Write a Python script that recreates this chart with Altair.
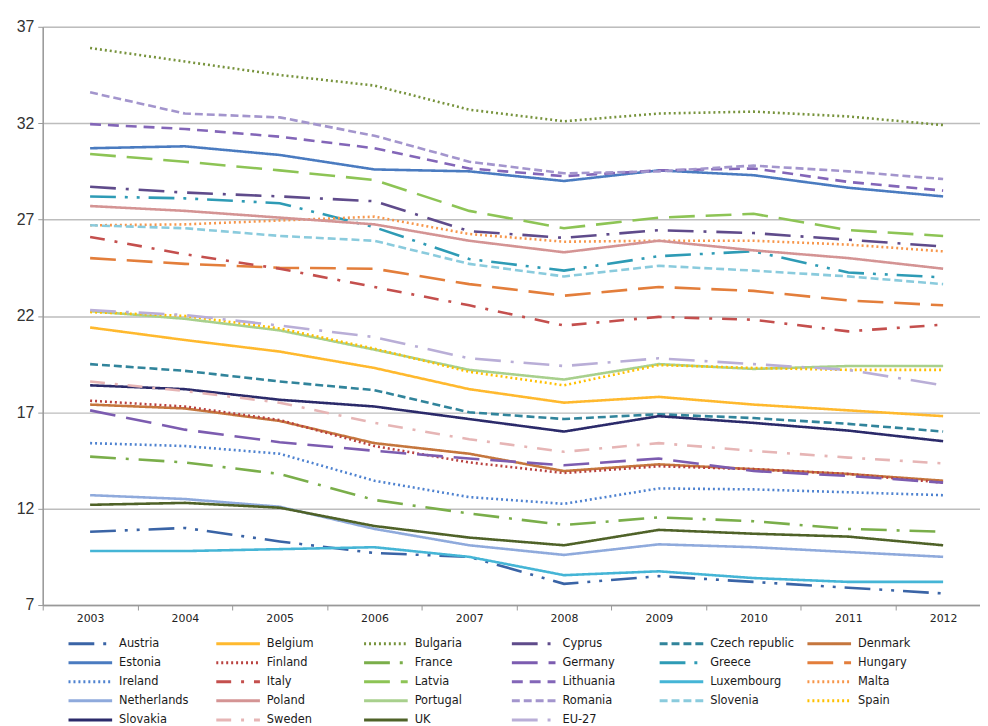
import altair as alt
import pandas as pd

years = [2003, 2004, 2005, 2006, 2007, 2008, 2009, 2010, 2011, 2012]

austria = [10.8, 11.0, 10.3, 9.7, 9.5, 8.1, 8.5, 8.2, 7.9, 7.6]
belgium = [21.4, 20.75, 20.15, 19.3, 18.2, 17.5, 17.8, 17.4, 17.1, 16.8]
bulgaria = [35.9, 35.2, 34.5, 33.95, 32.7, 32.1, 32.5, 32.6, 32.35, 31.9]
cyprus = [28.7, 28.4, 28.2, 27.95, 26.4, 26.05, 26.45, 26.3, 25.95, 25.6]
czech = [19.5, 19.15, 18.6, 18.15, 17.0, 16.65, 16.9, 16.7, 16.4, 16.0]
denmark = [17.4, 17.2, 16.55, 15.4, 14.85, 13.95, 14.3, 14.05, 13.8, 13.45]
estonia = [30.7, 30.8, 30.35, 29.6, 29.5, 29.0, 29.55, 29.3, 28.65, 28.2]
finland = [17.6, 17.3, 16.6, 15.25, 14.4, 13.85, 14.2, 14.05, 13.8, 13.35]
france = [14.7, 14.4, 13.8, 12.45, 11.75, 11.15, 11.55, 11.35, 10.95, 10.8]
germany = [17.1, 16.1, 15.45, 15.0, 14.6, 14.25, 14.6, 13.95, 13.7, 13.35]
greece = [28.2, 28.1, 27.85, 26.6, 24.95, 24.35, 25.1, 25.35, 24.25, 24.0]
hungary = [25.0, 24.7, 24.5, 24.45, 23.65, 23.05, 23.5, 23.3, 22.8, 22.55]
ireland = [15.4, 15.25, 14.85, 13.45, 12.6, 12.25, 13.05, 13.0, 12.85, 12.7]
italy = [26.1, 25.2, 24.45, 23.5, 22.55, 21.5, 21.95, 21.8, 21.2, 21.55]
latvia = [30.4, 30.0, 29.55, 29.05, 27.45, 26.55, 27.1, 27.3, 26.45, 26.15]
lithuania = [31.95, 31.7, 31.3, 30.7, 29.65, 29.25, 29.55, 29.65, 28.95, 28.5]
luxembourg = [9.8, 9.8, 9.9, 10.0, 9.5, 8.55, 8.75, 8.4, 8.2, 8.2]
malta = [26.7, 26.75, 26.95, 27.15, 26.25, 25.85, 25.9, 25.9, 25.7, 25.35]
netherlands = [12.7, 12.5, 12.1, 10.95, 10.1, 9.6, 10.15, 10.0, 9.75, 9.5]
poland = [27.7, 27.45, 27.1, 26.75, 25.9, 25.3, 25.9, 25.4, 25.0, 24.45]
portugal = [22.25, 21.85, 21.25, 20.25, 19.2, 18.7, 19.5, 19.25, 19.4, 19.4]
romania = [33.6, 32.5, 32.3, 31.35, 30.0, 29.4, 29.5, 29.8, 29.5, 29.1]
slovenia = [26.7, 26.55, 26.15, 25.9, 24.7, 24.05, 24.6, 24.35, 24.05, 23.65]
spain = [22.2, 22.0, 21.35, 20.3, 19.1, 18.4, 19.45, 19.3, 19.2, 19.2]
slovakia = [18.4, 18.2, 17.65, 17.3, 16.65, 16.0, 16.8, 16.45, 16.05, 15.5]
sweden = [18.6, 18.1, 17.5, 16.45, 15.6, 14.95, 15.4, 15.0, 14.65, 14.35]
uk = [12.2, 12.3, 12.05, 11.1, 10.5, 10.1, 10.9, 10.7, 10.55, 10.1]
eu27 = [22.3, 22.05, 21.5, 20.9, 19.8, 19.4, 19.8, 19.5, 19.2, 18.4]

countries = ["Austria", "Belgium", "Bulgaria", "Cyprus", "Czech republic", "Denmark",
             "Estonia", "Finland", "France", "Germany", "Greece", "Hungary",
             "Ireland", "Italy", "Latvia", "Lithuania", "Luxembourg", "Malta",
             "Netherlands", "Poland", "Portugal", "Romania", "Slovenia", "Spain",
             "Slovakia", "Sweden", "UK", "EU-27"]
series = [austria, belgium, bulgaria, cyprus, czech, denmark,
          estonia, finland, france, germany, greece, hungary,
          ireland, italy, latvia, lithuania, luxembourg, malta,
          netherlands, poland, portugal, romania, slovenia, spain,
          slovakia, sweden, uk, eu27]

colors = ["#3A64A6", "#FFB92E", "#77933C", "#5F4B8B", "#31849B", "#C5763D",
          "#4A7BC0", "#B9413F", "#7AAE4A", "#7C5CB0", "#2E9BB5", "#E37E3B",
          "#4E82D0", "#C44F4D", "#8DC455", "#8366B8", "#45B5D6", "#F7964A",
          "#8FAADC", "#D49494", "#A8D08D", "#A395CD", "#8ACBDD", "#FFC000",
          "#2B2A6A", "#E6B5B5", "#4F6228", "#B9AED7"]

SOLID = [1, 0]
DOT = [2, 3]
SDASH = [8, 4]
MDASH = [11, 7]
LDASH = [26, 11]
LDASHDOT = [26, 10, 3, 10]
LDASHDOTDOT = [26, 9, 3, 9, 3, 9]
DASHDOT = [15, 10, 3, 10]

dashes = [LDASHDOTDOT, SOLID, DOT, LDASHDOT, SDASH, SOLID,
          SOLID, DOT, LDASHDOT, LDASH, LDASHDOTDOT, LDASH,
          DOT, DASHDOT, LDASH, MDASH, SOLID, DOT,
          SOLID, SOLID, SOLID, SDASH, SDASH, DOT,
          SOLID, DASHDOT, SOLID, LDASHDOT]

rows = []
for c, vals in zip(countries, series):
    for y, v in zip(years, vals):
        rows.append({"country": c, "year": y, "value": v})
df = pd.DataFrame(rows)

step = 95.56
W = 945
H = 583
x_end = 2002.5 + W / step

# wide horizontal stroke symbol: path spans 3x the unit box so the
# legend row height stays small while the sample line is ~44px long
legend = alt.Legend(
    title=None, orient="none", legendX=39, legendY=613, columns=6,
    direction="horizontal",
    symbolType="M-3,0L3,0", symbolSize=215, symbolStrokeWidth=3,
    labelFont="DejaVu Sans", labelFontSize=11.5, labelColor="#1a1a1a",
    columnPadding=7, rowPadding=4.2, gridAlign="all", padding=0,
    labelOffset=20, labelLimit=200,
)

chart = alt.Chart(df).mark_line(strokeWidth=2.6).encode(
    x=alt.X("year:Q", scale=alt.Scale(domain=[2002.5, x_end], nice=False, zero=False),
            axis=alt.Axis(values=[2002.5 + i for i in range(10)],
                          labelExpr="toString(datum.value + 0.5)",
                          labelOffset=step / 2, labelFlush=False, labelOverlap=False,
                          grid=False, title=None, tickSize=5, tickColor="#999",
                          domainColor="#999", domainWidth=1.5,
                          labelFont="DejaVu Sans", labelFontSize=11, labelColor="#222",
                          labelPadding=3)),
    y=alt.Y("value:Q", scale=alt.Scale(domain=[7, 37], nice=False, zero=False),
            axis=alt.Axis(values=[7, 12, 17, 22, 27, 32, 37], title=None,
                          grid=True, gridColor="#BDBDBD", gridWidth=1.5,
                          domainColor="#999", domainWidth=1.5,
                          tickSize=5, tickColor="#999",
                          labelFont="Liberation Sans", labelFontSize=16,
                          labelColor="#333", labelPadding=4)),
    color=alt.Color("country:N", scale=alt.Scale(domain=countries, range=colors),
                    sort=countries, legend=legend),
    strokeDash=alt.StrokeDash("country:N", scale=alt.Scale(domain=countries, range=dashes),
                              sort=countries, legend=legend),
    detail="country:N",
).properties(
    width=W, height=H,
    autosize=alt.AutoSizeParams(type="none"),
    padding={"left": 35, "top": 16, "right": 0, "bottom": 119},
).configure_view(strokeWidth=0).configure(background="white")

chart.save("out.html", embed_options={"renderer": "svg", "actions": False})
